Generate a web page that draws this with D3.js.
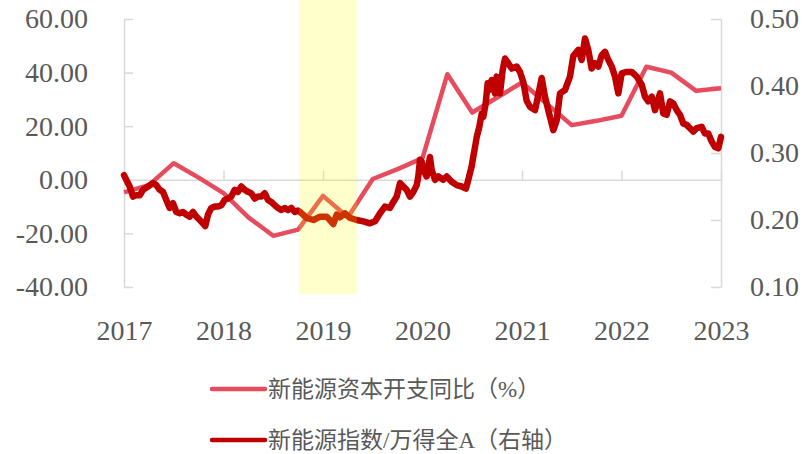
<!DOCTYPE html>
<html>
<head>
<meta charset="utf-8">
<script src="https://cdn.jsdelivr.net/npm/d3@7/dist/d3.min.js"></script>
<style>
  html, body { margin: 0; padding: 0; background: #fff; }
  svg { display: block; }
  .axis text { font-family: "Liberation Serif", "DejaVu Serif", serif; font-size: 28px; fill: #595959; }
  .axis path, .axis line { stroke: #d9d9d9; stroke-width: 1.5; }
  .legend text { font-family: "Liberation Serif", "Noto Sans CJK SC", sans-serif; font-size: 23px; fill: #595959; }
</style>
</head>
<body>
<svg id="chart" width="809" height="454"></svg>
<script>
// ---- data ----
const yearTicks = [2017, 2018, 2019, 2020, 2021, 2022, 2023];
const leftTicks = [-40, -20, 0, 20, 40, 60];
const rightTicks = [0.1, 0.2, 0.3, 0.4, 0.5];
const highlightPeriod = [2018.76, 2019.34];
const seriesNames = ["新能源资本开支同比（%）", "新能源指数/万得全A（右轴）"];

// capex YoY (%), quarterly, left axis
const capexDates = [2017.00, 2017.25, 2017.50, 2017.75, 2018.00, 2018.25, 2018.50, 2018.75,
  2019.00, 2019.25, 2019.50, 2019.75, 2020.00, 2020.25, 2020.50, 2020.75,
  2021.00, 2021.25, 2021.50, 2021.75, 2022.00, 2022.25, 2022.50, 2022.75, 2023.00];
const capexValues = [-4.7, -2.0, 6.2, 0.8, -5.0, -14.0, -20.9, -18.6,
  -6.0, -14.0, 0.3, 4.0, 8.1, 39.4, 25.1, 30.7,
  36.3, 28.3, 20.4, 22.0, 23.9, 42.2, 40.0, 33.2, 34.2];

// new-energy index / Wind All-A ratio, right axis
const indexDates = [2017.000, 2017.023, 2017.057, 2017.090, 2017.124, 2017.158, 2017.191, 2017.241,
  2017.291, 2017.325, 2017.359, 2017.392, 2017.425, 2017.459, 2017.492, 2017.526,
  2017.560, 2017.593, 2017.626, 2017.660, 2017.693, 2017.727, 2017.761, 2017.794,
  2017.817, 2017.844, 2017.877, 2017.912, 2017.945, 2017.978, 2018.012, 2018.045,
  2018.078, 2018.113, 2018.146, 2018.179, 2018.213, 2018.246, 2018.279, 2018.314,
  2018.347, 2018.380, 2018.414, 2018.447, 2018.480, 2018.515, 2018.548, 2018.581,
  2018.615, 2018.648, 2018.681, 2018.716, 2018.749, 2018.769, 2018.836, 2018.903,
  2018.970, 2019.037, 2019.104, 2019.138, 2019.171, 2019.221, 2019.271, 2019.339,
  2019.405, 2019.472, 2019.523, 2019.573, 2019.623, 2019.673, 2019.707, 2019.741,
  2019.774, 2019.807, 2019.841, 2019.874, 2019.908, 2019.942, 2019.958, 2019.975,
  2019.992, 2020.008, 2020.042, 2020.075, 2020.092, 2020.126, 2020.159, 2020.209,
  2020.243, 2020.293, 2020.344, 2020.394, 2020.437, 2020.460, 2020.494, 2020.511,
  2020.528, 2020.545, 2020.571, 2020.595, 2020.611, 2020.635, 2020.655, 2020.671,
  2020.695, 2020.729, 2020.746, 2020.779, 2020.806, 2020.829, 2020.862, 2020.897,
  2020.947, 2020.980, 2021.013, 2021.047, 2021.080, 2021.131, 2021.161, 2021.198,
  2021.231, 2021.264, 2021.298, 2021.315, 2021.349, 2021.382, 2021.432, 2021.482,
  2021.516, 2021.566, 2021.600, 2021.633, 2021.666, 2021.700, 2021.734, 2021.767,
  2021.801, 2021.834, 2021.867, 2021.902, 2021.935, 2021.968, 2022.002, 2022.052,
  2022.103, 2022.153, 2022.203, 2022.236, 2022.269, 2022.304, 2022.337, 2022.387,
  2022.420, 2022.454, 2022.487, 2022.521, 2022.555, 2022.588, 2022.621, 2022.655,
  2022.688, 2022.721, 2022.756, 2022.806, 2022.839, 2022.872, 2022.907, 2022.940,
  2022.973, 2023.000];
const indexValues = [0.267, 0.260, 0.250, 0.235, 0.237, 0.237, 0.245, 0.250,
  0.255, 0.252, 0.245, 0.242, 0.230, 0.218, 0.225, 0.212,
  0.210, 0.212, 0.208, 0.205, 0.212, 0.205, 0.200, 0.195,
  0.191, 0.208, 0.218, 0.220, 0.220, 0.222, 0.230, 0.232,
  0.235, 0.245, 0.242, 0.250, 0.245, 0.242, 0.240, 0.232,
  0.235, 0.235, 0.240, 0.230, 0.227, 0.222, 0.218, 0.215,
  0.218, 0.215, 0.218, 0.212, 0.214, 0.212, 0.203, 0.200,
  0.205, 0.205, 0.194, 0.208, 0.204, 0.210, 0.203, 0.200,
  0.198, 0.195, 0.198, 0.210, 0.220, 0.218, 0.227, 0.235,
  0.255, 0.250, 0.245, 0.235, 0.242, 0.252, 0.265, 0.290,
  0.287, 0.275, 0.265, 0.294, 0.275, 0.260, 0.265, 0.260,
  0.265, 0.257, 0.252, 0.250, 0.247, 0.260, 0.280, 0.295,
  0.309, 0.324, 0.339, 0.359, 0.354, 0.374, 0.404, 0.394,
  0.409, 0.389, 0.414, 0.389, 0.424, 0.441, 0.434, 0.426,
  0.429, 0.421, 0.406, 0.378, 0.369, 0.364, 0.385, 0.412,
  0.384, 0.364, 0.344, 0.334, 0.349, 0.389, 0.394, 0.414,
  0.445, 0.454, 0.439, 0.471, 0.454, 0.426, 0.434, 0.429,
  0.446, 0.451, 0.439, 0.429, 0.414, 0.389, 0.419, 0.421,
  0.421, 0.414, 0.402, 0.384, 0.377, 0.384, 0.364, 0.389,
  0.359, 0.357, 0.377, 0.374, 0.364, 0.357, 0.344, 0.342,
  0.337, 0.332, 0.337, 0.339, 0.329, 0.329, 0.317, 0.309,
  0.307, 0.324];

// ---- layout ----
const svg = d3.select("#chart");
const x = d3.scaleLinear().domain([2017, 2023]).range([124, 721]);
const yL = d3.scaleLinear().domain([-40, 60]).range([287, 19]);
const yR = d3.scaleLinear().domain([0.1, 0.5]).range([287, 19]);

// axes
svg.append("g").attr("class", "axis")
  .attr("transform", `translate(${x(2017)},0)`)
  .call(d3.axisLeft(yL).tickValues(leftTicks).tickFormat(d => d.toFixed(2))
    .tickSizeInner(-9).tickSizeOuter(0).tickPadding(36));

svg.append("g").attr("class", "axis")
  .attr("transform", `translate(${x(2023)},0)`)
  .call(d3.axisRight(yR).tickValues(rightTicks).tickFormat(d => d.toFixed(2))
    .tickSizeInner(-10).tickSizeOuter(0).tickPadding(29));

svg.append("g").attr("class", "axis")
  .attr("transform", `translate(0,${yL(0)})`)
  .call(d3.axisBottom(x).tickValues(yearTicks).tickFormat(d3.format("d"))
    .tickSizeInner(-9).tickSizeOuter(0).tickPadding(140));

svg.selectAll(".axis .domain").attr("fill", "none");

// lines
const capexData = capexDates.map((d, i) => [d, capexValues[i]]);
const indexData = indexDates.map((d, i) => [d, indexValues[i]]);

svg.append("path")
  .datum(capexData)
  .attr("fill", "none")
  .attr("stroke", "#E64C5E")
  .attr("stroke-width", 4.5)
  .attr("stroke-linejoin", "round")
  .attr("d", d3.line().x(d => x(d[0])).y(d => yL(d[1])));

svg.append("path")
  .datum(indexData)
  .attr("fill", "none")
  .attr("stroke", "#C00000")
  .attr("stroke-width", 6.5)
  .attr("stroke-linejoin", "round")
  .attr("stroke-linecap", "round")
  .attr("d", d3.line().x(d => x(d[0])).y(d => yR(d[1])));

// highlight band (drawn on top, translucent)
svg.append("rect")
  .attr("x", x(highlightPeriod[0]))
  .attr("width", x(highlightPeriod[1]) - x(highlightPeriod[0]))
  .attr("y", -5)
  .attr("height", 299)
  .attr("fill", "#FFFF00")
  .attr("fill-opacity", 0.2);

// legend
const legendColors = ["#E64C5E", "#C00000"];
const legend = svg.append("g").attr("class", "legend");
const legendY = [389, 440];
seriesNames.forEach((name, i) => {
  legend.append("line")
    .attr("x1", 212).attr("x2", 265)
    .attr("y1", legendY[i]).attr("y2", legendY[i])
    .attr("stroke", legendColors[i])
    .attr("stroke-width", 4.5)
    .attr("stroke-linecap", "round");
  legend.append("text")
    .attr("x", 268).attr("y", legendY[i])
    .attr("dominant-baseline", "central")
    .text(name);
});
</script>
</body>
</html>
